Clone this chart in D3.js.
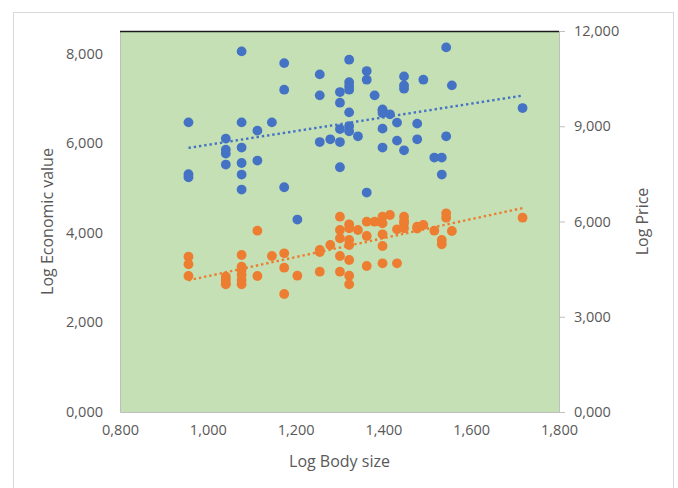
<!DOCTYPE html>
<meta charset="utf-8">
<style>
body { margin: 0; background: #fff; }
text { font-family: "Open Sans", "Noto Sans", sans-serif; fill: #595959; }
.tick { font-size: 14.5px; }
.title { font-size: 16px; }
</style>
<body>
<script src="https://cdn.jsdelivr.net/npm/d3@7/dist/d3.min.js"></script>
<script>

var width = 678;
var height = 488;

// one entry per observation: log body size, log economic value, log price
var bodySize = [
  0.956, 0.956, 0.956,
  1.041, 1.041, 1.041, 1.041,
  1.077, 1.077, 1.077, 1.077, 1.077, 1.077,
  1.113, 1.113,
  1.146,
  1.174, 1.174, 1.174,
  1.204,
  1.255, 1.255, 1.255,
  1.279,
  1.301, 1.301, 1.301, 1.301, 1.301,
  1.322, 1.322, 1.322, 1.322, 1.322, 1.322, 1.322,
  1.342,
  1.362, 1.362, 1.362,
  1.380,
  1.398, 1.398, 1.398, 1.398, 1.398,
  1.415,
  1.431, 1.431,
  1.447, 1.447, 1.447, 1.447,
  1.477, 1.477,
  1.491,
  1.516,
  1.533, 1.533,
  1.543, 1.543,
  1.556,
  1.717
];
var econValue = [
  6.462, 5.304, 5.237,
  6.099, 5.854, 5.765, 5.520,
  8.045, 6.462, 5.899, 5.555, 5.297, 4.963,
  6.277, 5.609,
  6.462,
  7.784, 7.191, 5.014,
  4.294,
  7.532, 7.064, 6.023,
  6.084,
  7.138, 6.901, 6.313, 6.023, 5.460,
  7.860, 7.360, 7.271, 7.191, 6.685, 6.380, 6.262,
  6.150,
  7.606, 7.414, 4.896,
  7.064,
  6.752, 6.719, 6.670, 6.322, 5.899,
  6.641,
  6.456, 6.055,
  7.487, 7.287, 7.213, 5.838,
  6.433, 6.084,
  7.414,
  5.676,
  5.676, 5.297,
  8.134, 6.150,
  7.287,
  6.781
];
var price = [
  4.891, 4.652, 4.283,
  4.260, 4.160, 4.050, 4.020,
  4.945, 4.576, 4.472, 4.315, 4.157, 4.022,
  5.710, 4.283,
  4.913,
  4.998, 4.545, 3.717,
  4.293,
  5.102, 5.039, 4.419,
  5.260,
  6.151, 5.732, 5.471, 4.913, 4.419,
  5.912, 5.786, 5.417, 5.260, 4.787, 4.293, 4.022,
  5.732,
  5.994, 5.543, 4.598,
  5.994,
  6.151, 5.943, 5.597, 5.228, 4.683,
  6.205,
  5.754, 4.683,
  6.151, 6.016, 5.943, 5.786,
  5.836, 5.780,
  5.890,
  5.710,
  5.417, 5.282,
  6.258, 6.120,
  5.701,
  6.120
];

var xTicks = [0.8, 1.0, 1.2, 1.4, 1.6, 1.8];
var leftTicks = [0, 2, 4, 6, 8];
var rightTicks = [0, 3, 6, 9, 12];

var blue = "#4472C4";
var orange = "#ED7D31";

var plot = {left: 120, top: 31, right: 559, bottom: 412};

var svg = d3.select("body").append("svg")
    .attr("width", width)
    .attr("height", height);

// chart frame
svg.append("rect")
    .attr("x", 13.5).attr("y", 12.5)
    .attr("width", 660).attr("height", 490)
    .attr("fill", "#fff")
    .attr("stroke", "#d9d9d9");

var x = d3.scaleLinear().domain([0.8, 1.8]).range([plot.left, plot.right]);
var yL = d3.scaleLinear().domain([0, 8.5]).range([plot.bottom, plot.top]);
var yR = d3.scaleLinear().domain([0, 12]).range([plot.bottom, plot.top]);

var fmt = function(d) { return d3.format(".3f")(d).replace(".", ","); };

svg.append("rect")
    .attr("x", plot.left).attr("y", plot.top)
    .attr("width", plot.right - plot.left)
    .attr("height", plot.bottom - plot.top)
    .attr("fill", "#C5E0B4");

// axes
var gx = svg.append("g")
    .attr("transform", "translate(0," + plot.bottom + ")")
    .call(d3.axisBottom(x).tickValues(xTicks).tickFormat(fmt).tickSize(0).tickPadding(13));
var gl = svg.append("g")
    .attr("transform", "translate(" + plot.left + ",0)")
    .call(d3.axisLeft(yL).tickValues(leftTicks).tickFormat(fmt).tickSize(0).tickPadding(17));
var gr = svg.append("g")
    .attr("transform", "translate(" + plot.right + ",0)")
    .call(d3.axisRight(yR).tickValues(rightTicks).tickFormat(fmt).tickSize(6).tickPadding(9));

[gx, gl, gr].forEach(function(g) {
  g.selectAll("text").attr("class", "tick").attr("fill", "#595959");
  g.selectAll("line").attr("stroke", "#bfbfbf");
  g.select(".domain").attr("stroke", "#bfbfbf");
});
gx.selectAll("text").attr("dy", "0.71em");

// dark top line
svg.append("line")
    .attr("x1", plot.left).attr("x2", plot.right)
    .attr("y1", plot.top + 0.5).attr("y2", plot.top + 0.5)
    .attr("stroke", "#1a1a1a").attr("stroke-width", 1.5);

// least squares trend lines
function fit(xs, ys) {
  var mx = d3.mean(xs), my = d3.mean(ys);
  var sxy = 0, sxx = 0;
  for (let i = 0; i < xs.length; i++) {
    sxy += (xs[i] - mx) * (ys[i] - my);
    sxx += (xs[i] - mx) * (xs[i] - mx);
  }
  var b = sxy / sxx;
  return function(v) { return my + b * (v - mx); };
}
var x0 = d3.min(bodySize), x1 = d3.max(bodySize);

function drawSeries(values, scale, color) {
  var f = fit(bodySize, values);
  svg.append("g").selectAll("circle")
      .data(values)
      .enter().append("circle")
      .attr("cx", function(d, i) { return x(bodySize[i]); })
      .attr("cy", function(d) { return scale(d); })
      .attr("r", 4.9)
      .attr("fill", color);
  svg.append("line")
      .attr("x1", x(x0)).attr("y1", scale(f(x0)))
      .attr("x2", x(x1)).attr("y2", scale(f(x1)))
      .attr("stroke", color)
      .attr("stroke-width", 2.4)
      .attr("stroke-dasharray", "2.4,2.9");
}
drawSeries(econValue, yL, blue);
drawSeries(price, yR, orange);

// axis titles
svg.append("text").attr("class", "title")
    .attr("x", (plot.left + plot.right) / 2).attr("y", 467)
    .attr("text-anchor", "middle")
    .text("Log Body size");
svg.append("text").attr("class", "title")
    .attr("transform", "translate(53," + ((plot.top + plot.bottom) / 2) + ") rotate(-90)")
    .attr("text-anchor", "middle")
    .text("Log Economic value");
svg.append("text").attr("class", "title")
    .attr("transform", "translate(648," + ((plot.top + plot.bottom) / 2) + ") rotate(-90)")
    .attr("text-anchor", "middle")
    .text("Log Price");

</script>
</body>
</html>
